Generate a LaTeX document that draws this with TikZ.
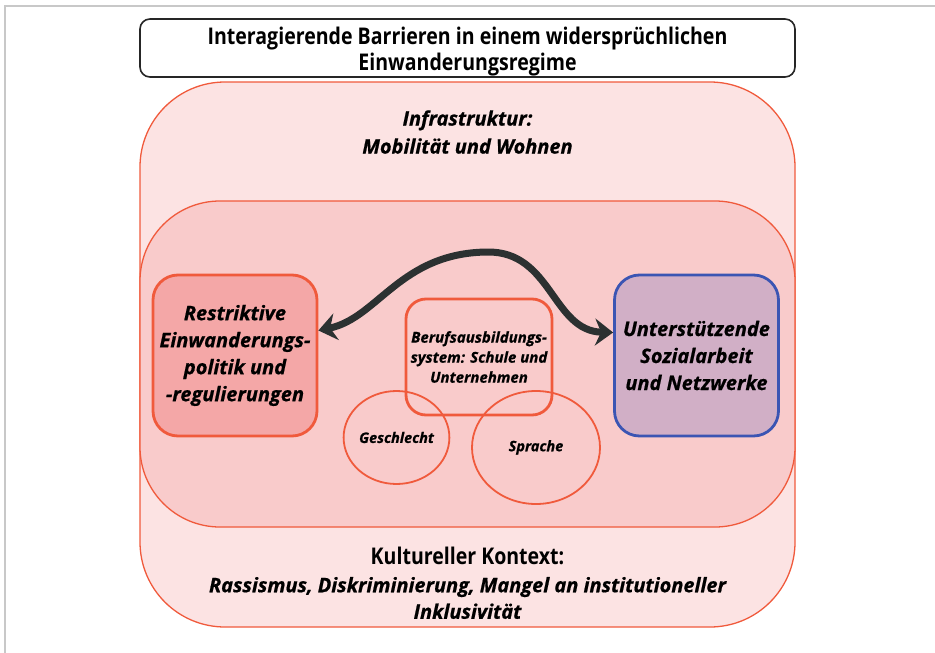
\documentclass[tikz,border=0pt]{standalone}
\usepackage{fontspec}
\setmainfont{Open Sans}
\newfontfamily\cond[FakeStretch=0.85]{Open Sans}
\newfontfamily\hvyit[FakeBold=0.7]{Open Sans Bold Italic}
\usetikzlibrary{arrows.meta,calc,shapes.geometric}
\definecolor{frame}{HTML}{C8C8C8}
\definecolor{orng}{HTML}{F05A3C}
\definecolor{outerfill}{HTML}{FCE3E3}
\definecolor{innerfill}{HTML}{F9CBCB}
\definecolor{redfill}{HTML}{F4A7A7}
\definecolor{purpfill}{HTML}{D1AFC6}
\definecolor{bluestroke}{HTML}{3B55B3}
\definecolor{arrowc}{HTML}{2C3131}
\tikzset{
  titlebox/.style={draw=black!85, line width=1.6pt, rounded corners=10pt, fill=white, minimum width=655pt, minimum height=58pt},
  layer/.style={draw=orng, line width=1.3pt, rounded corners=85pt},
  mainbox/.style={line width=2.8pt, rounded corners=25pt, minimum width=164pt, minimum height=161pt, inner sep=0pt, align=center, font=\hvyit\fontsize{20}{27}\selectfont},
  midbox/.style={draw=orng, line width=2.8pt, rounded corners=20pt, minimum width=146pt, minimum height=116pt, inner sep=0pt, align=center, font=\hvyit\fontsize{15}{20}\selectfont},
  circ/.style={draw=orng, line width=1.8pt, ellipse, inner sep=0pt, font=\hvyit\fontsize{14.5}{18}\selectfont},
  lbl/.style={align=center, inner sep=0pt},
  bigarrow/.style={draw=arrowc, line width=7pt, {Stealth[length=18pt,width=27pt,inset=6pt]}-{Stealth[length=18pt,width=27pt,inset=6pt]}}
}
\begin{document}
\begin{tikzpicture}[x=1pt,y=-1pt]
\useasboundingbox (0,0) rectangle (935,653);
\draw[frame, line width=1.2pt] (5,653) -- (5,6) -- (935,6);

\node[titlebox] (title) at (467.5,48) {};
\node[lbl, font=\cond\bfseries\fontsize{23}{26}\selectfont] (titletext) at (467.5,52) {Interagierende Barrieren in einem widersprüchlichen\\Einwanderungsregime};

\node[layer, fill=outerfill, minimum width=655pt, minimum height=545pt] (outer) at (467.5,354.5) {};
\node[layer, fill=innerfill, rounded corners=80pt, minimum width=655pt, minimum height=326pt] (inner) at (467.5,364) {};

\node[lbl, font=\hvyit\fontsize{20}{28}\selectfont] (infra) at (467.5,132) {Infrastruktur:\\Mobilität und Wohnen};

\node[lbl, font=\cond\bfseries\fontsize{23}{26}\selectfont] (kultur) at (467.5,556) {Kultureller Kontext:};
\node[lbl, font=\hvyit\fontsize{20}{26.5}\selectfont] (rassis) at (467.5,598) {Rassismus, Diskriminierung, Mangel an institutioneller\\Inklusivität};

\node[mainbox, draw=orng, fill=redfill] (restr) at (235,355.5) {Restriktive\\Einwanderungs-\\politik und\\-regulierungen};
\node[mainbox, draw=bluestroke, fill=purpfill] (unter) at (696.5,355.5) {Unterstützende\\Sozialarbeit\\und Netzwerke};

\node[midbox] (beruf) at (479,357) {Berufsausbildungs-\\system: Schule und\\Unternehmen};

\node[circ, minimum width=103pt, minimum height=93pt] (geschl) at (396.5,437.5) {Geschlecht};
\node[circ, minimum width=128pt, minimum height=113pt] (sprache) at (536,447.5) {Sprache};

\draw[bigarrow] ([yshift=25pt]restr.east) .. controls (378,318) and (400,253) .. (487,252) .. controls (552,251) and (552,331) .. ([yshift=23pt]unter.west);
\end{tikzpicture}
\end{document}
